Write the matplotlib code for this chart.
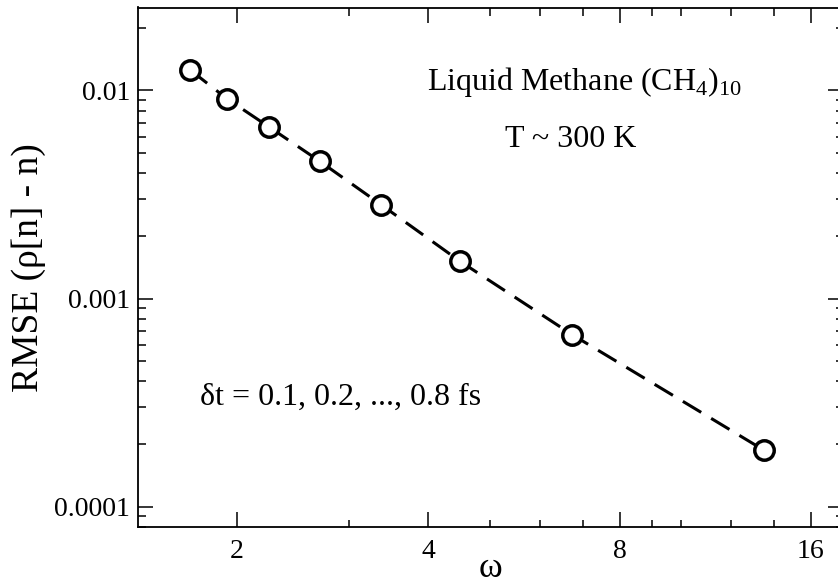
import numpy as np
import matplotlib.pyplot as plt
from matplotlib.ticker import FixedLocator, FixedFormatter, NullFormatter

plt.rcParams["font.family"] = ["Liberation Serif", "DejaVu Serif"]
plt.rcParams["mathtext.fontset"] = "custom"
plt.rcParams["mathtext.rm"] = "Liberation Serif"

# values
omega = [1.69, 1.93, 2.25, 2.70, 3.37, 4.49, 6.74, 13.5]
rmse = [0.01252, 0.00912, 0.00666, 0.00457, 0.00283, 0.00151, 0.000671, 0.000187]

x_major = [2, 4, 8, 16]
x_minor = [3, 5, 6, 7, 9, 10, 12, 14]
x_labels = ["2", "4", "8", "16"]
y_major = [0.0001, 0.001, 0.01]
y_labels = ["0.0001", "0.001", "0.01"]
y_minor = [m * d for d in [1e-5, 1e-4, 1e-3, 1e-2] for m in range(2, 10)]

fig = plt.figure(figsize=(8.38, 5.84), dpi=100)
# right spine sits just outside the picture, as in the reference
ax = fig.add_axes([138.3 / 838, 1 - 527 / 584, 705.1 / 838, 519.5 / 584])

ax.plot(omega, rmse, color="black", linewidth=2.2, dashes=[7.0, 3.8],
        marker="o", markersize=14, markeredgewidth=2.5,
        markerfacecolor="white", markeredgecolor="black")

ax.set_xscale("log", base=2)
ax.set_yscale("log")
ax.set_xlim(1.4, 18)
ax.set_ylim(8e-5, 0.025)

ax.xaxis.set_major_locator(FixedLocator(x_major))
ax.xaxis.set_major_formatter(FixedFormatter(x_labels))
ax.xaxis.set_minor_locator(FixedLocator(x_minor))
ax.xaxis.set_minor_formatter(NullFormatter())
ax.yaxis.set_major_locator(FixedLocator(y_major))
ax.yaxis.set_major_formatter(FixedFormatter(y_labels))
ax.yaxis.set_minor_locator(FixedLocator(y_minor))
ax.yaxis.set_minor_formatter(NullFormatter())

ax.tick_params(which="both", direction="in", top=True, right=True, width=1.1)
ax.tick_params(which="major", length=10.8, labelsize=20)
ax.tick_params(which="minor", length=5.4)
ax.tick_params(axis="x", which="major", pad=9)
ax.tick_params(axis="y", which="major", pad=6)
for s in ax.spines.values():
    s.set_linewidth(1.3)

ax.set_xlabel("ω", fontsize=26, labelpad=-9)
ax.set_ylabel("RMSE (ρ[n] - n)", fontsize=27)
ax.yaxis.set_label_coords(-0.131, 0.5)

ax.text(0.4094, 0.841, r"Liquid Methane (CH$_4$)$_{10}$", transform=ax.transAxes,
        fontsize=23, va="baseline", ha="left")
ax.text(0.520, 0.7315, "T ~ 300 K", transform=ax.transAxes,
        fontsize=23, va="baseline", ha="left")
ax.text(0.0875, 0.2348, "δt = 0.1, 0.2, ..., 0.8 fs", transform=ax.transAxes,
        fontsize=23, va="baseline", ha="left")

plt.savefig("out.png", dpi=100)
